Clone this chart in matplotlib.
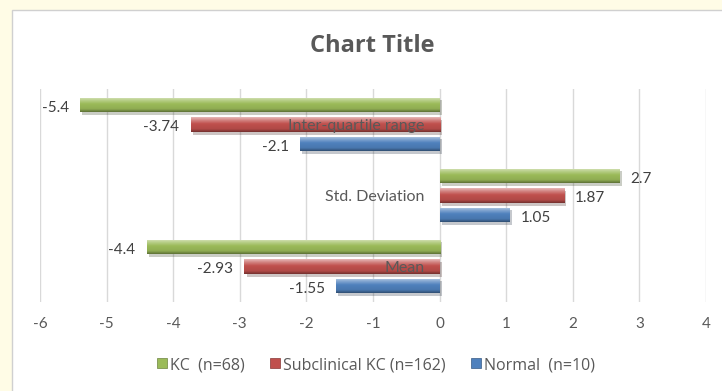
import matplotlib

matplotlib.use("Agg")
import matplotlib.patheffects as pe
import matplotlib.pyplot as plt
import numpy as np
from matplotlib.colors import LinearSegmentedColormap, to_rgb
from matplotlib.patches import Patch, Rectangle

plt.rcParams["font.family"] = ["Lato", "DejaVu Sans"]

# statistics per group, bottom-to-top category order
categories = ["Mean", "Std. Deviation", "Inter-quartile range"]
series_names = ["KC  (n=68)", "Subclinical KC (n=162)", "Normal  (n=10)"]
kc = [-4.4, 2.7, -5.4]
subclinical = [-2.93, 1.87, -3.74]
normal = [-1.55, 1.05, -2.1]
x_ticks = [-6, -5, -4, -3, -2, -1, 0, 1, 2, 3, 4]

SERIES = [kc, subclinical, normal]
COLORS = ["#9bbb59", "#c0504d", "#4f81bd"]
OFFSETS = [0.275, 0.0, -0.275]
BAR_H = 0.21
TXT = "#595959"
WIDE = ["Open Sans", "DejaVu Sans"]


def _shade(c, f):
    r = np.array(to_rgb(c))
    return tuple(r + (1 - r) * f) if f > 0 else tuple(r * (1 + f))


def _bevel_cmap(c):
    # light top edge, body colour, darker lower rim
    stops = [(0.0, _shade(c, 0.6)), (0.2, _shade(c, 0.3)), (0.45, to_rgb(c)),
             (0.8, _shade(c, -0.08)), (1.0, _shade(c, -0.4))]
    return LinearSegmentedColormap.from_list("bevel", stops)


fig = plt.figure(figsize=(7.22, 3.91), dpi=100, facecolor="#fffce6")
# white chart area with thin grey frame
fig.patches.append(Rectangle((12 / 722, -0.1), 1.0, 1 - 10 / 391 + 0.1, transform=fig.transFigure,
                             facecolor="white", edgecolor="#d0d0d0", lw=1.0, zorder=-5))

ax = fig.add_axes([40 / 722, 1 - 302 / 391, 666 / 722, 213 / 391])
ax.set_facecolor("none")
ax.set_zorder(2)

y = np.arange(len(categories))
grad = np.linspace(0, 1, 64).reshape(-1, 1)
for vals, col, off in zip(SERIES, COLORS, OFFSETS):
    bars = ax.barh(y + off, vals, height=BAR_H, color=col, zorder=2,
                   path_effects=[pe.SimplePatchShadow(offset=(1.5, -2), alpha=0.25), pe.Normal()])
    cmap = _bevel_cmap(col)
    for b, v in zip(bars, vals):
        x0, y0, w, h = b.get_x(), b.get_y(), b.get_width(), b.get_height()
        im = ax.imshow(grad, cmap=cmap, aspect="auto", zorder=3,
                       extent=(x0, x0 + w, y0, y0 + h), origin="upper")
        im.set_clip_path(b)
        ax.annotate(f"{v:g}", (v, y0 + h / 2), xytext=(8 if v > 0 else -8, -2),
                    textcoords="offset points", ha="left" if v > 0 else "right",
                    va="center", fontsize=11, color="#404040", zorder=5)

ax.set_xlim(-6, 4)
ax.set_ylim(-0.5, 2.5)
ax.set_xticks(x_ticks)
ax.set_xticklabels([f"{t}" for t in x_ticks], fontsize=11, color=TXT)
ax.tick_params(axis="x", length=0, pad=11)
ax.grid(axis="x", color="#d9d9d9", lw=1, zorder=0)
ax.set_axisbelow(True)

# category labels sit on the zero line, drawn over the bars
ax.spines["left"].set_position(("data", 0))
ax.set_yticks(y)
ax.set_yticklabels(categories, fontsize=11.5, color=TXT)
ax.tick_params(axis="y", length=0, pad=11)
ax.yaxis.set_zorder(6)
for s in ax.spines.values():
    s.set_visible(False)

fig.text(372 / 722, 1 - 46 / 391, "Chart Title", ha="center", va="center",
         fontsize=17, fontweight="bold", color=TXT, family=WIDE)

handles = [Patch(facecolor=c, edgecolor=_shade(c, -0.3), lw=0.5) for c in COLORS]
fig.legend(handles, series_names, loc="center", bbox_to_anchor=(376 / 722, 1 - 365 / 391),
           ncol=3, frameon=False, prop={"family": WIDE, "size": 11.5}, labelcolor=TXT,
           handlelength=0.6, handleheight=0.6, handletextpad=0.2, columnspacing=1.6)

fig.savefig("out.png", dpi=100, facecolor=fig.get_facecolor())
